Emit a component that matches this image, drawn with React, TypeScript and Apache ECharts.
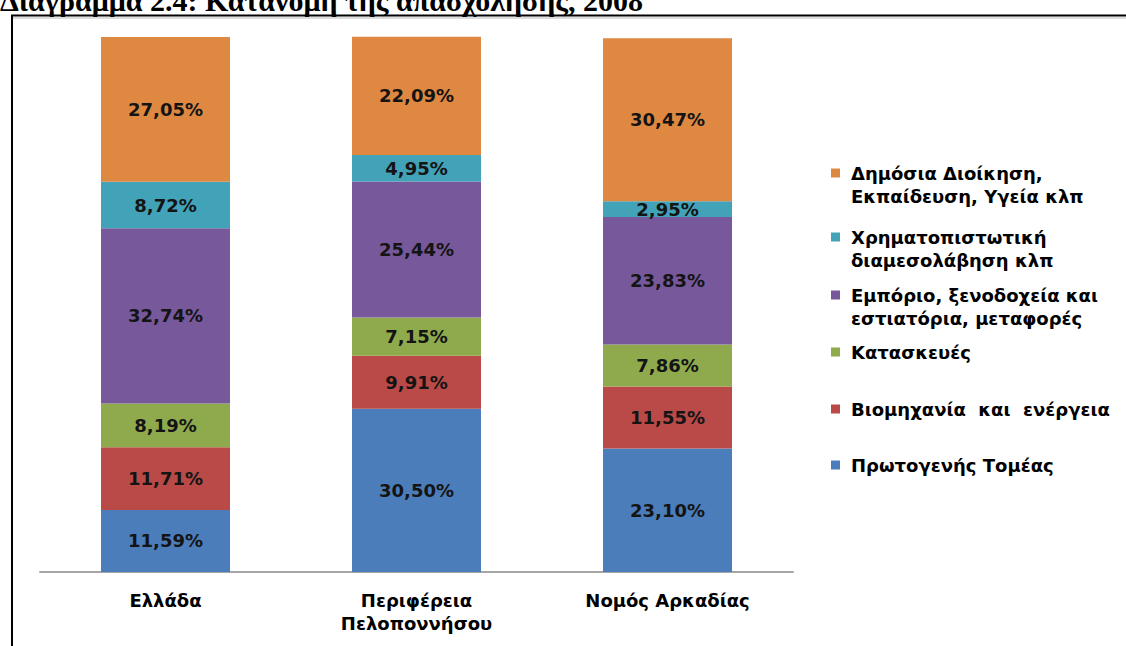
import React, { useEffect, useRef } from "react";
import * as echarts from "echarts";

const categories = ["Ελλάδα", "Περιφέρεια\nΠελοποννήσου", "Νομός Αρκαδίας"];

const seriesNames = [
  "Πρωτογενής Τομέας",
  "Βιομηχανία  και  ενέργεια",
  "Κατασκευές",
  "Εμπόριο, ξενοδοχεία και εστιατόρια, μεταφορές",
  "Χρηματοπιστωτική διαμεσολάβηση κλπ",
  "Δημόσια Διοίκηση, Εκπαίδευση, Υγεία κλπ",
];

const legendLines = [
  ["Πρωτογενής Τομέας"],
  ["Βιομηχανία  και  ενέργεια"],
  ["Κατασκευές"],
  ["Εμπόριο, ξενοδοχεία και", "εστιατόρια, μεταφορές"],
  ["Χρηματοπιστωτική", "διαμεσολάβηση κλπ"],
  ["Δημόσια Διοίκηση,", "Εκπαίδευση, Υγεία κλπ"],
];

const primaryValues = [11.59, 30.5, 23.1];
const industryValues = [11.71, 9.91, 11.55];
const constructionValues = [8.19, 7.15, 7.86];
const tradeValues = [32.74, 25.44, 23.83];
const financeValues = [8.72, 4.95, 2.95];
const publicValues = [27.05, 22.09, 30.47];

const seriesValues = [
  primaryValues,
  industryValues,
  constructionValues,
  tradeValues,
  financeValues,
  publicValues,
];

const colors = ["#4B7DBB", "#B94A48", "#8FAA4C", "#77599B", "#41A2B8", "#DF8842"];

// legend first-line centre y for each series (same order as seriesNames)
const legendY = [465, 409, 352, 295, 237, 173];

const FONT = "DejaVu Sans";

export default function App() {
  const ref = useRef<HTMLDivElement>(null);
  useEffect(() => {
    if (!ref.current) return;
    const chart = echarts.init(ref.current, null, { renderer: "svg" });
    const legends = seriesNames.map((name, i) => {
      const lines = legendLines[i];
      const two = lines.length > 1;
      return {
        data: [name],
        orient: "vertical",
        left: 831,
        top: two ? legendY[i] - 34.5 : legendY[i] - 11.5,
        padding: 0,
        itemGap: 0,
        itemWidth: 9,
        itemHeight: 9,
        icon: "rect",
        selectedMode: false,
        // an empty first line keeps the marker level with the first text line
        formatter: () => (two ? " \n" + lines.join("\n") : lines[0]),
        textStyle: {
          fontFamily: FONT,
          fontWeight: "bold",
          fontSize: 18,
          lineHeight: 23,
          color: "#000",
          padding: [0, 0, 0, 6],
        },
      };
    });
    const option = {
      animation: false,
      backgroundColor: "#fff",
      color: colors,
      grid: { left: 40, top: 37, width: 753, height: 535 },
      legend: legends,
      xAxis: {
        type: "category",
        data: categories,
        axisLine: { lineStyle: { color: "#A6A6A6", width: 2 } },
        axisTick: { show: false },
        axisLabel: {
          fontFamily: FONT,
          fontWeight: "bold",
          fontSize: 18,
          lineHeight: 23,
          color: "#000",
          margin: 17,
        },
      },
      yAxis: { type: "value", min: 0, max: 100, show: false, splitLine: { show: false } },
      series: seriesNames.map((name, i) => ({
        name,
        type: "bar",
        stack: "total",
        barWidth: 129,
        clip: false,
        data: seriesValues[i],
        itemStyle: { color: colors[i] },
        label: {
          show: true,
          position: "inside",
          fontFamily: FONT,
          fontWeight: "bold",
          fontSize: 18,
          color: "#141414",
          formatter: (p: any) => p.value.toFixed(2).replace(".", ",") + "%",
        },
      })),
      graphic: [
        {
          type: "text",
          x: 0,
          y: 0,
          style: {
            text: "Διάγραμμα 2.4: Κατανομή της απασχόλησης, 2008",
            font: "bold 30px 'Liberation Serif'",
            fill: "#000",
            verticalAlign: "middle",
            align: "left",
          },
        },
        {
          type: "line",
          shape: { x1: 12, y1: 18, x2: 1126, y2: 18 },
          style: { stroke: "#DDDDDD", lineWidth: 2 },
        },
        {
          type: "line",
          shape: { x1: 11, y1: 15.5, x2: 1126, y2: 15.5 },
          style: { stroke: "#000", lineWidth: 2 },
        },
        {
          type: "line",
          shape: { x1: 12, y1: 15, x2: 12, y2: 646 },
          style: { stroke: "#000", lineWidth: 2 },
        },
      ],
    };
    chart.setOption(option as any);
    return () => chart.dispose();
  }, []);
  return (
    <div
      ref={ref}
      style={{ position: "fixed", left: 0, top: 0, width: 1126, height: 646 }}
    />
  );
}
